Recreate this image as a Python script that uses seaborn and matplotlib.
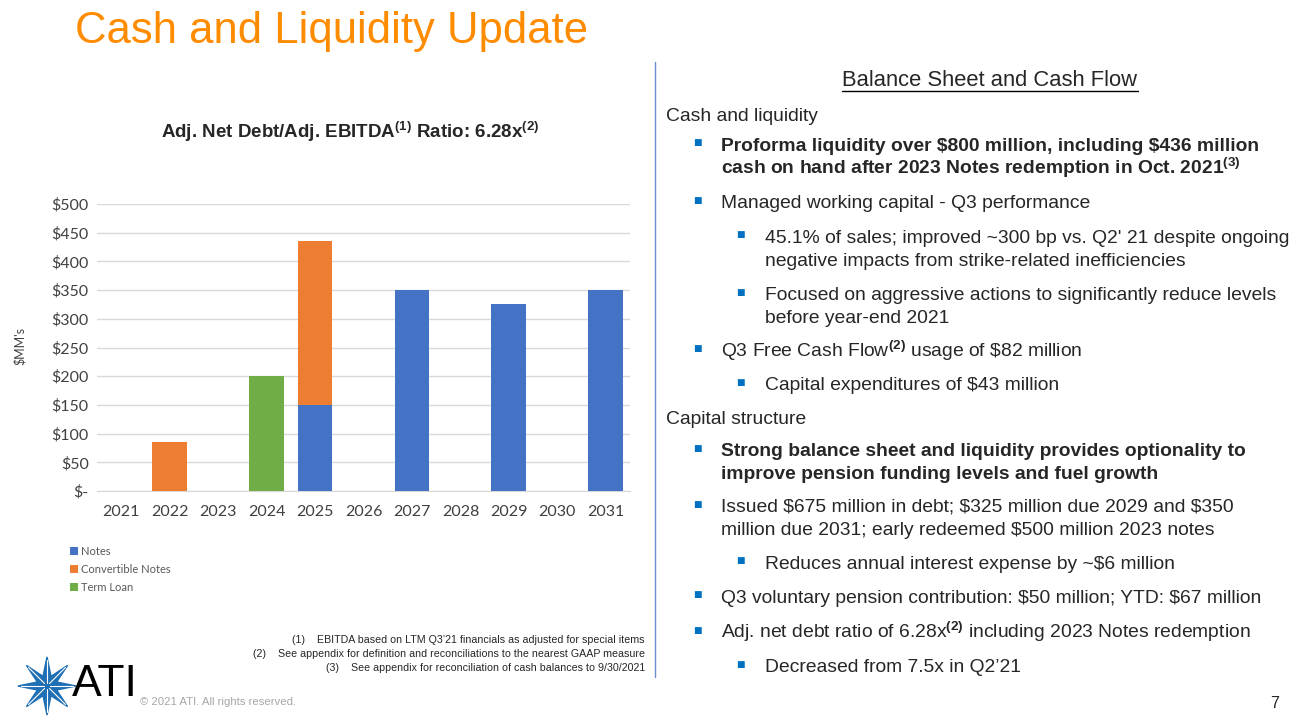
import numpy as np
import pandas as pd
import seaborn as sns
import matplotlib.pyplot as plt
from matplotlib.patches import Patch, Polygon
from matplotlib.lines import Line2D

# chart data ($MM's)
years = ['2021', '2022', '2023', '2024', '2025', '2026', '2027', '2028', '2029', '2030', '2031']
notes = [0, 0, 0, 0, 150, 0, 350, 0, 325, 0, 350]
convertible = [0, 85, 0, 0, 285, 0, 0, 0, 0, 0, 0]
term_loan = [0, 0, 0, 200, 0, 0, 0, 0, 0, 0, 0]
series_names = ['Notes', 'Convertible Notes', 'Term Loan']
y_ticks = [0, 50, 100, 150, 200, 250, 300, 350, 400, 450, 500]
y_tick_labels = ['$-', '$50', '$100', '$150', '$200', '$250', '$300', '$350', '$400', '$450', '$500']

colors = ['#4472C4', '#ED7D31', '#70AD47']

sns.set_style('white')
plt.rcParams['font.family'] = ['Liberation Sans', 'DejaVu Sans']
plt.rcParams['mathtext.fontset'] = 'custom'
plt.rcParams['mathtext.rm'] = 'Liberation Sans'
plt.rcParams['mathtext.bf'] = 'Liberation Sans:bold'

W, H = 1295, 718
fig = plt.figure(figsize=(W / 100, H / 100), dpi=100)


def px(x, y):
    return x / W, 1 - y / H


def txt(x, y, s, **kw):
    kw.setdefault('va', 'center')
    fig.text(*px(x, y), s.replace('$', r'\$').replace('§', '$'), **kw)


# ---- chart ----
ax = fig.add_axes([97 / W, 1 - 491 / H, 533 / W, 287 / H])
df = pd.DataFrame({'year': years, 'Notes': notes, 'Convertible Notes': convertible, 'Term Loan': term_loan})
bottom = np.zeros(len(years))
for name, c in zip(series_names, colors):
    sns.barplot(data=df, x='year', y=name, color=c, saturation=1, width=0.72,
                bottom=bottom.copy(), linewidth=0, ax=ax, zorder=3)
    bottom += df[name].values

ax.set_ylim(0, 500)
ax.set_xlim(-0.5, len(years) - 0.5)
ax.set_yticks(y_ticks)
ax.set_yticklabels(y_tick_labels)
ax.set_xlabel('')
ax.set_ylabel('')
ax.grid(axis='y', color='#D9D9D9', linewidth=1, zorder=0)
for s in ['top', 'right', 'left']:
    ax.spines[s].set_visible(False)
ax.spines['bottom'].set_color('#D9D9D9')
ax.tick_params(axis='both', length=0, labelsize=11.5, labelcolor='#404040', pad=6)
ax.tick_params(axis='x', pad=10)
for lab in ax.get_xticklabels() + ax.get_yticklabels():
    lab.set_fontfamily('Lato')

txt(20, 346, "$MM's", rotation=90, ha='center', fontsize=9, family='Lato', color='#404040')

handles = [Patch(facecolor=c, edgecolor='none', label=n) for n, c in zip(series_names, colors)]
leg = fig.legend(handles=handles, loc='upper left', bbox_to_anchor=px(60, 536), frameon=False,
                 handlelength=0.7, handleheight=0.7, handletextpad=0.3, labelspacing=0.62,
                 prop={'family': 'Lato', 'size': 8})
for t in leg.get_texts():
    t.set_color('#595959')

txt(350, 138, 'Adj. Net Debt/Adj. EBITDA§^{\\mathbf{(1)}}§ Ratio: 6.28x§^{\\mathbf{(2)}}§',
    ha='center', va='baseline', fontsize=13.5, fontweight='bold')

# ---- slide title ----
txt(75, 31, 'Cash and Liquidity Update', fontsize=31.4, color='#FF8C00')

# separator
fig.add_artist(Line2D([655 / W, 655 / W], [1 - 62 / H, 1 - 677 / H], color='#6E8FCF', linewidth=1))

# ---- right panel ----
fs = 13.85
blue = '#0070C0'
txt(990, 86, 'Balance Sheet and Cash Flow', ha='center', va='baseline', fontsize=15.8)
fig.add_artist(Line2D([842 / W, 1138 / W], [1 - 91 / H, 1 - 91 / H], color='black', linewidth=1))

BL = 5  # centre-to-baseline offset in px


def bullet(level, y, lines, bold=False):
    bx, tx = (697, 721) if level == 1 else (740, 765)
    txt(bx, y - 3, '■', fontsize=6.5, color=blue, family='DejaVu Sans', ha='center')
    for i, line in enumerate(lines):
        txt(tx, y + BL + i * 23, line, va='baseline', fontsize=fs,
            fontweight='bold' if bold else 'normal')


txt(666, 116 + BL, 'Cash and liquidity', va='baseline', fontsize=fs)
bullet(1, 146, ['Proforma liquidity over $800 million, including $436 million',
                'cash on hand after 2023 Notes redemption in Oct. 2021§^{\\mathbf{(3)}}§'], bold=True)
bullet(1, 203, ['Managed working capital - Q3 performance'])
bullet(2, 238, ["45.1% of sales; improved ~300 bp vs. Q2' 21 despite ongoing",
                'negative impacts from strike-related inefficiencies'])
bullet(2, 295, ['Focused on aggressive actions to significantly reduce levels',
                'before year-end 2021'])
bullet(1, 352, ['Q3 Free Cash Flow§^{\\mathbf{(2)}}§ usage of $82 million'])
bullet(2, 385, ['Capital expenditures of $43 million'])
txt(666, 419 + BL, 'Capital structure', va='baseline', fontsize=fs)
bullet(1, 451, ['Strong balance sheet and liquidity provides optionality to',
                'improve pension funding levels and fuel growth'], bold=True)
bullet(1, 507, ['Issued $675 million in debt; $325 million due 2029 and $350',
                'million due 2031; early redeemed $500 million 2023 notes'])
bullet(2, 564, ['Reduces annual interest expense by ~$6 million'])
bullet(1, 598, ['Q3 voluntary pension contribution: $50 million; YTD: $67 million'])
bullet(1, 633, ['Adj. net debt ratio of 6.28x§^{\\mathbf{(2)}}§ including 2023 Notes redemption'])
bullet(2, 667, ["Decreased from 7.5x in Q2\u201921"])

txt(1275, 703, '7', fontsize=11.5, ha='center')

# ---- footnotes ----
txt(645, 640, '(1)    EBITDA based on LTM Q3\u201921 financials as adjusted for special items', fontsize=7.7, ha='right')
txt(645, 654, '(2)    See appendix for definition and reconciliations to the nearest GAAP measure', fontsize=7.7, ha='right')
txt(645, 668, '(3)    See appendix for reconciliation of cash balances to 9/30/2021', fontsize=7.7, ha='right')

# ---- logo ----
lax = fig.add_axes([15 / W, 1 - 718 / H, 64 / W, 64 / H])
ang = np.linspace(0, 2 * np.pi, 17)[:-1] + np.pi / 2
rad = np.where(np.arange(16) % 2 == 0, 1.0, 0.36)
lax.add_patch(Polygon(np.c_[rad * np.cos(ang), rad * np.sin(ang)], closed=True, color='#1F6FB5'))
for a in ang[::2]:
    lax.plot([0.12 * np.cos(a), 0.9 * np.cos(a)], [0.12 * np.sin(a), 0.9 * np.sin(a)], color='white', lw=0.8)
lax.set_xlim(-1.1, 1.1)
lax.set_ylim(-1.1, 1.1)
lax.set_aspect('equal')
lax.axis('off')
txt(72, 684, 'ATI', fontsize=32, color='black')
txt(140, 702, '\u00a9 2021 ATI. All rights reserved.', fontsize=8.2, color='#A6A6A6')

fig.savefig('out.png', dpi=100)
